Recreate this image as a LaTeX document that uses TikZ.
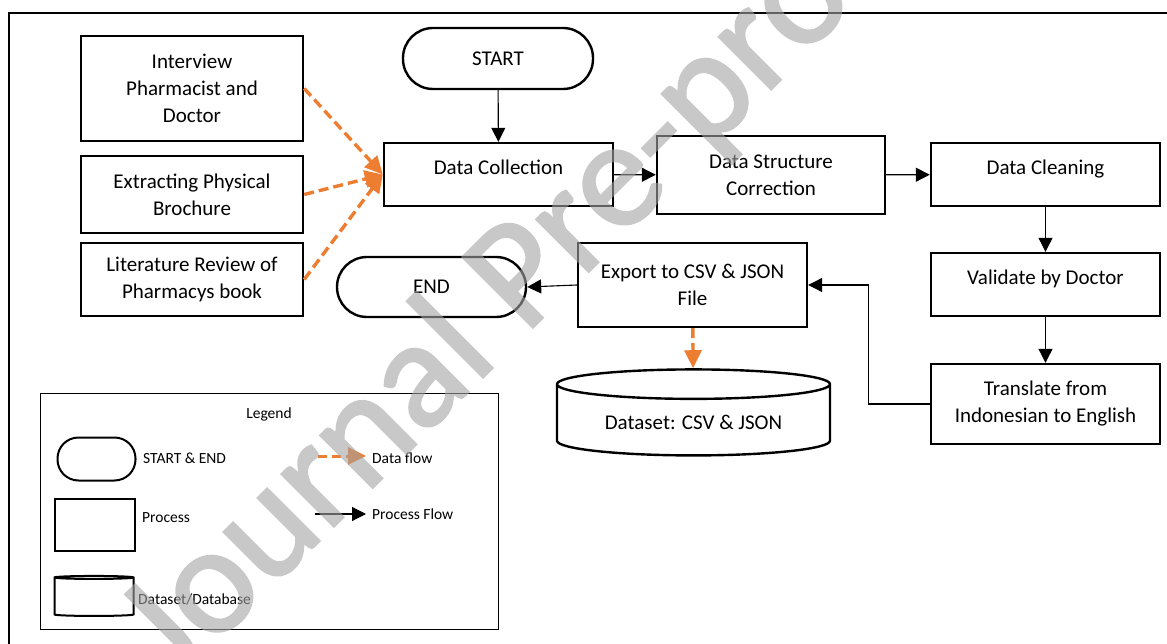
\documentclass[tikz,border=0pt]{standalone}
\usepackage{fontspec}
\setmainfont{Carlito}
\newfontfamily\wmfont[FakeBold=1.5]{Carlito}
\usetikzlibrary{arrows.meta,shapes.geometric}
\definecolor{dorange}{RGB}{237,125,49}

\begin{document}
\begin{tikzpicture}[x=1pt,y=-1pt,
  every node/.style={font=\fontsize{21}{27}\selectfont, align=center},
  proc/.style={draw, rectangle, line width=2.4pt, inner sep=2pt},
  term/.style={draw, rectangle, line width=2.4pt, rounded corners=30pt},
  store/.style={draw, cylinder, shape border rotate=90, line width=2.4pt},
  raised/.style={text height=14pt, text depth=14pt},
  flow/.style={line width=1.1pt, -{Triangle[length=14pt,width=14pt]}},
  dflow/.style={draw=dorange, line width=3.4pt, dash pattern=on 10pt off 5pt, -{Triangle[length=18pt,width=17pt]}},
  small/.style={font=\fontsize{15.5}{19}\selectfont, inner sep=0pt},
  wmark/.style={rotate=45, text=black!36, font=\wmfont\fontsize{155}{155}\selectfont}]
\useasboundingbox (0,0) rectangle (1167,644);
\clip (0,0) rectangle (1167,644);
\draw[line width=2pt] (9,13) rectangle (1180,660);

% sources
\node[proc, minimum width=222pt, minimum height=105pt] (src1) at (192,88.5){Interview\\Pharmacist and\\Doctor};
\node[proc, minimum width=222pt, minimum height=77pt] (src2) at (192,194.5){Extracting Physical\\Brochure};
\node[proc, minimum width=222pt, minimum height=73pt] (src3) at (192,279.5){Literature Review of\\Pharmacys book};

% main flow
\node[term, minimum width=190pt, minimum height=61pt] (start) at (498,58.5){START};
\node[proc, raised, minimum width=229pt, minimum height=63pt] (collect) at (498.5,174.5){Data Collection};
\node[proc, minimum width=228pt, minimum height=78pt] (struct) at (771,175){Data Structure\\Correction};
\node[proc, raised, minimum width=229pt, minimum height=63pt] (clean) at (1045.5,174.5){Data Cleaning};
\node[proc, raised, minimum width=229pt, minimum height=63pt] (valid) at (1045.5,284.5){Validate by Doctor};
\node[proc, minimum width=229pt, minimum height=80pt] (transl) at (1045.5,404){Translate from\\Indonesian to English};
\node[proc, minimum width=229pt, minimum height=84pt] (export) at (692.5,285){Export to CSV \& JSON\\File};
\node[term, minimum width=189pt, minimum height=60pt] (stop) at (431.5,287){END};
\node[store, aspect=0.16, minimum width=273pt, minimum height=86pt] (data) at (693.5,422){Dataset: CSV \& JSON};

\draw[dflow] (src1.east) -- (collect.west);
\draw[dflow] (src2.east) -- (collect.west);
\draw[dflow] (src3.east) -- (collect.west);
\draw[flow] (start) -- (collect);
\draw[flow] (collect) -- (struct);
\draw[flow] (struct) -- (clean);
\draw[flow] (clean) -- (valid);
\draw[flow] (valid) -- (transl);
\draw[flow] (transl.west) -- ++(-61,0) |- (export.east);
\draw[flow] (export.west) -- (stop.east);
\draw[dflow] (export) -- (data);

% legend
\node[draw, line width=1.2pt, minimum width=458pt, minimum height=236pt] (legend) at (269.5,511.5){};
\node[small] (ltitle) at (269,414){Legend};
\node[draw, line width=2pt, rounded corners=21pt, minimum width=78pt, minimum height=43pt] (lterm) at (96.5,459){};
\node[small, anchor=west] (lterm-t) at (143,458){START \& END};
\node[draw, line width=2pt, minimum width=80pt, minimum height=52pt] (lproc) at (95,524.5){};
\node[small, anchor=west] (lproc-t) at (142,518){Process};
\node[draw, cylinder, shape border rotate=90, aspect=0.45, line width=2pt, minimum width=79pt, minimum height=40pt] (lstore) at (94,597.5){};
\node[small, anchor=west] (lstore-t) at (138,599){Dataset/Database};
\coordinate (df0) at (318,456);
\coordinate (df1) at (366,456);
\draw[dflow, line width=3pt, dash pattern=on 9pt off 5pt] (df0) -- (df1);
\node[small, anchor=west] (df-t) at (372,458){Data flow};
\coordinate (pf0) at (315,514);
\coordinate (pf1) at (366,514);
\draw[flow] (pf0) -- (pf1);
\node[small, anchor=west] (pf-t) at (372,514){Process Flow};

% watermark over the whole figure
\begin{scope}[transparency group, opacity=0.6]
\node[wmark] (wm) at (534,268){Journal Pre-proof};
\end{scope}
\end{tikzpicture}
\end{document}
